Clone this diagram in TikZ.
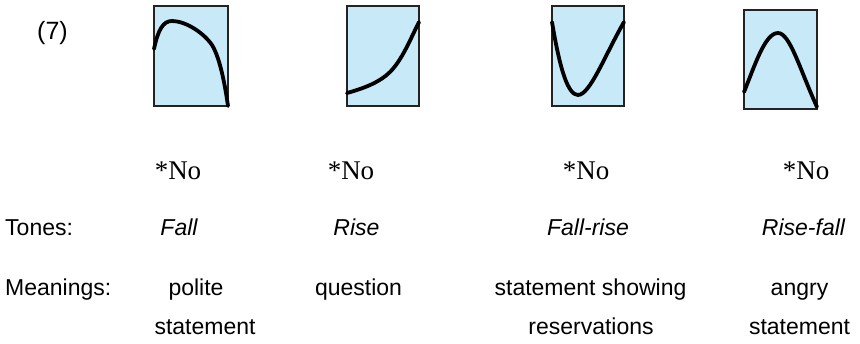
\documentclass[tikz,border=0pt]{standalone}
\usepackage{fontspec}
\setmainfont{Liberation Sans}
\newfontfamily\tnrfont{Liberation Serif}
\definecolor{boxblue}{RGB}{200,233,248}
\definecolor{boxline}{RGB}{35,35,35}
\begin{document}
\begin{tikzpicture}[x=1pt,y=-1pt,
  lbl/.style={inner sep=0pt,anchor=base,font=\fontsize{23}{27}\selectfont},
  word/.style={inner sep=0pt,anchor=base,font=\tnrfont\fontsize{27}{31}\selectfont},
  tonebox/.style={fill=boxblue,draw=boxline,line width=1.3pt},
  contour/.style={line width=3.8pt,line cap=round,line join=round}]
\useasboundingbox (0,0) rectangle (860,344);
% (7)
\node[inner sep=0pt,anchor=center,font=\fontsize{25}{29}\selectfont] (num) at (52.5,33) {(7)};
% boxes
\draw[tonebox] (154,6) rectangle (228,106);
\draw[tonebox] (347,6) rectangle (419,106);
\draw[tonebox] (552,6) rectangle (624,106);
\draw[tonebox] (744,10) rectangle (817,109);
% contours
\draw[contour] (154,49) .. controls (158,30) and (163,21) .. (172,21)
  .. controls (185,21) and (203,32) .. (212,45)
  .. controls (220,58) and (225,85) .. (228,106);
\draw[contour] (347,93) .. controls (365,88) and (380,82) .. (390,72)
  .. controls (402,60) and (410,40) .. (419,22);
\draw[contour] (552,22) .. controls (560,70) and (568,95) .. (578,95)
  .. controls (590,95) and (605,55) .. (624,22);
\draw[contour] (744,92) .. controls (755,65) and (765,33) .. (778,33)
  .. controls (790,33) and (800,70) .. (817,107);
% words
\node[word] (w1) at (178,180) {*No};
\node[word] (w2) at (351,180) {*No};
\node[word] (w3) at (586,180) {*No};
\node[word] (w4) at (806,180) {*No};
% tones
\node[lbl,anchor=base west] (tones) at (5,236) {Tones:};
\node[lbl] (t1) at (179,236) {\itshape Fall};
\node[lbl] (t2) at (356.5,236) {\itshape Rise};
\node[lbl] (t3) at (588,236) {\itshape Fall-rise};
\node[lbl] (t4) at (803.5,236) {\itshape Rise-fall};
% meanings
\node[lbl,anchor=base west] (mean) at (5,296) {Meanings:};
\node[lbl] (m1a) at (196,296) {polite};
\node[lbl] (m1b) at (205,335) {statement};
\node[lbl] (m2) at (358.5,296) {question};
\node[lbl] (m3a) at (590.5,296) {statement showing};
\node[lbl] (m3b) at (591,335) {reservations};
\node[lbl] (m4a) at (799.5,296) {angry};
\node[lbl] (m4b) at (799.5,335) {statement};
\end{tikzpicture}
\end{document}
